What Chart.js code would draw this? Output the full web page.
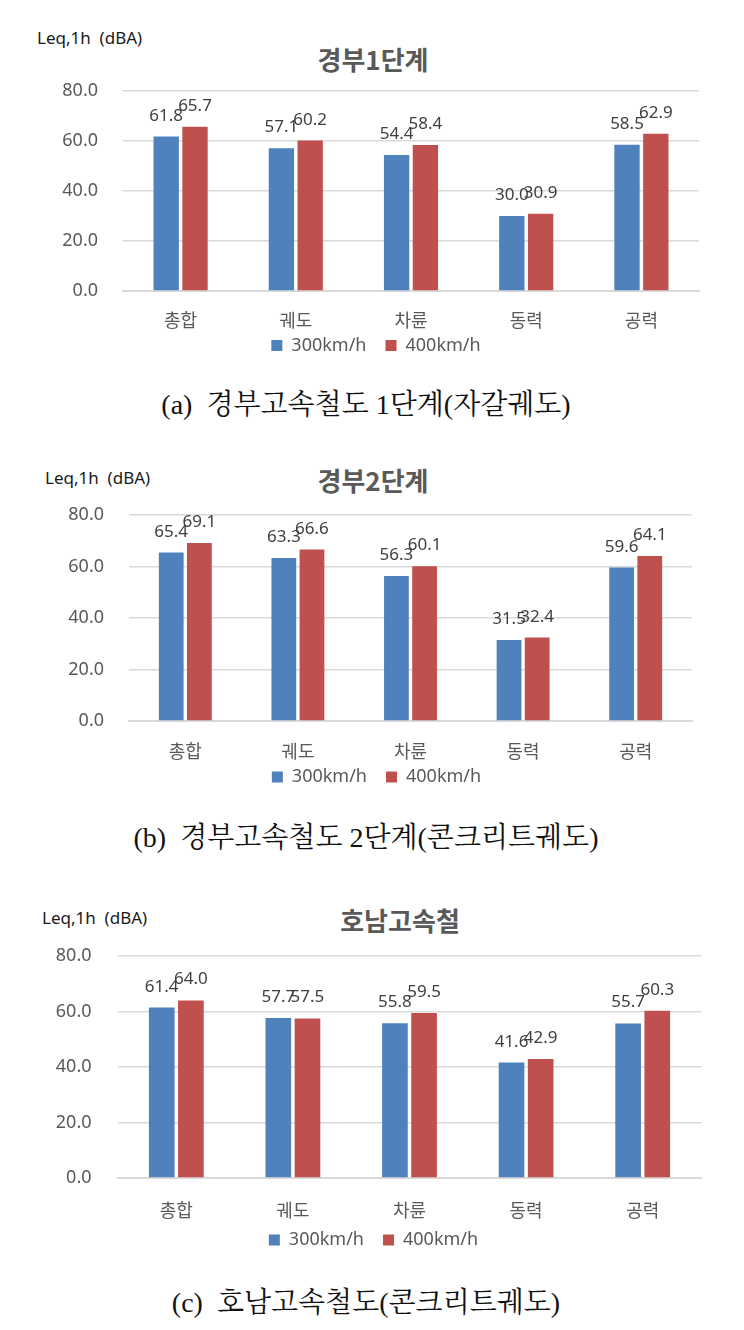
<!DOCTYPE html>
<html lang="ko">
<head>
<meta charset="UTF-8">
<title>고속철도 소음 비교</title>
<script src="https://cdn.jsdelivr.net/npm/chart.js"></script>
<style>
    body { margin: 0; width: 744px; height: 1330px; background: #fff; position: relative; overflow: hidden;
           font-family: "Noto Sans", "Noto Sans CJK KR", sans-serif; }
    canvas { position: absolute; left: 0; }
    .unit { position: absolute; font-size: 17px; line-height: 20px; color: #1a1a1a; white-space: nowrap; }
    .title { position: absolute; font-size: 26px; font-weight: bold; line-height: 30px; color: #595959;
             transform: translateX(-50%); white-space: nowrap; font-family: "Noto Sans CJK KR", sans-serif; }
    .caption { position: absolute; font-family: "Liberation Serif", "Noto Serif CJK KR", "Noto Sans CJK KR", serif;
               font-size: 28px; line-height: 34px; color: #111; transform: translateX(-50%); white-space: nowrap; }
</style>
</head>
<body>
    <div class="unit" style="left:37px; top:28px;">Leq,1h&nbsp; (dBA)</div>
    <div class="title" style="left:373px; top:44px;">경부1단계</div>
    <canvas id="chart1" width="744" height="314" style="top:51px;"></canvas>
    <div class="caption" style="left:366px; top:388px;">(a)&nbsp; 경부고속철도 1단계(자갈궤도)</div>

    <div class="unit" style="left:45px; top:468px;">Leq,1h&nbsp; (dBA)</div>
    <div class="title" style="left:373px; top:465px;">경부2단계</div>
    <canvas id="chart2" width="744" height="321" style="top:475px;"></canvas>
    <div class="caption" style="left:366px; top:821px;">(b)&nbsp; 경부고속철도 2단계(콘크리트궤도)</div>

    <div class="unit" style="left:42px; top:908px;">Leq,1h&nbsp; (dBA)</div>
    <div class="title" style="left:400px; top:905px;">호남고속철</div>
    <canvas id="chart3" width="744" height="343" style="top:916px;"></canvas>
    <div class="caption" style="left:366px; top:1286px;">(c)&nbsp; 호남고속철도(콘크리트궤도)</div>

    <script>
        const categories = ['총합', '궤도', '차륜', '동력', '공력'];
        const seriesNames = ['300km/h', '400km/h'];
        const yTicks = [0, 20, 40, 60, 80];

        const stage1_300 = [61.8, 57.1, 54.4, 30.0, 58.5];
        const stage1_400 = [65.7, 60.2, 58.4, 30.9, 62.9];
        const stage2_300 = [65.4, 63.3, 56.3, 31.5, 59.6];
        const stage2_400 = [69.1, 66.6, 60.1, 32.4, 64.1];
        const honam_300 = [61.4, 57.7, 55.8, 41.6, 55.7];
        const honam_400 = [64.0, 57.5, 59.5, 42.9, 60.3];

        const FONT = '"Noto Sans", "Noto Sans CJK KR", sans-serif';

        // value labels above each bar
        const barValues = {
            id: 'barValues',
            afterDatasetsDraw(chart) {
                const ctx = chart.ctx;
                ctx.save();
                ctx.font = '17px ' + FONT;
                ctx.fillStyle = '#404040';
                ctx.textAlign = 'center';
                ctx.textBaseline = 'alphabetic';
                chart.data.datasets.forEach((ds, i) => {
                    chart.getDatasetMeta(i).data.forEach((bar, j) => {
                        ctx.fillText(ds.data[j].toFixed(1), bar.x, bar.y - 16);
                    });
                });
                ctx.restore();
            }
        };

        function makeChart(id, low, high, lay) {
            return new Chart(document.getElementById(id), {
                type: 'bar',
                data: {
                    labels: categories,
                    datasets: [
                        { label: seriesNames[0], data: low, backgroundColor: '#4f81bd' },
                        { label: seriesNames[1], data: high, backgroundColor: '#c0504d' }
                    ]
                },
                options: {
                    responsive: false,
                    animation: false,
                    layout: { padding: lay.padding },
                    categoryPercentage: 0.5,
                    barPercentage: 0.88,
                    plugins: {
                        tooltip: { enabled: false },
                        legend: {
                            position: 'bottom',
                            labels: {
                                boxWidth: 11, boxHeight: 11, padding: 5,
                                color: '#595959',
                                font: { size: 18, family: FONT },
                                // a few trailing spaces keep the two items apart
                                generateLabels: chart => Chart.defaults.plugins.legend.labels.generateLabels(chart)
                                    .map((item, i, all) => {
                                        if (i < all.length - 1) item.text += '   ';
                                        return item;
                                    })
                            }
                        }
                    },
                    scales: {
                        x: {
                            grid: { display: false, drawTicks: false },
                            border: { display: true, color: '#d9d9d9', width: 2 },
                            ticks: { color: '#595959', padding: lay.xPad, font: { size: 18, family: FONT } },
                            afterFit: s => { s.height = lay.xH; }
                        },
                        y: {
                            min: yTicks[0],
                            max: yTicks[yTicks.length - 1],
                            afterBuildTicks: s => { s.ticks = yTicks.map(v => ({ value: v })); },
                            grid: { color: '#d9d9d9', lineWidth: 1.5, drawTicks: false },
                            border: { display: false },
                            ticks: {
                                color: '#595959', padding: lay.yPad,
                                font: { size: 18, family: FONT },
                                callback: v => v.toFixed(1)
                            },
                            afterFit: s => { s.width = lay.yW; }
                        }
                    }
                },
                plugins: [barValues]
            });
        }

        makeChart('chart1', stage1_300, stage1_400,
            { padding: { left: 53, right: 45, top: 40, bottom: 0.5 }, yW: 70, yPad: 25, xH: 40.5, xPad: 20 });
        makeChart('chart2', stage2_300, stage2_400,
            { padding: { left: 61, right: 52, top: 40, bottom: 0 }, yW: 68, yPad: 25, xH: 42, xPad: 21 });
        makeChart('chart3', honam_300, honam_400,
            { padding: { left: 46, right: 43, top: 40, bottom: 0 }, yW: 72, yPad: 26.5, xH: 48, xPad: 23 });
    </script>
</body>
</html>
